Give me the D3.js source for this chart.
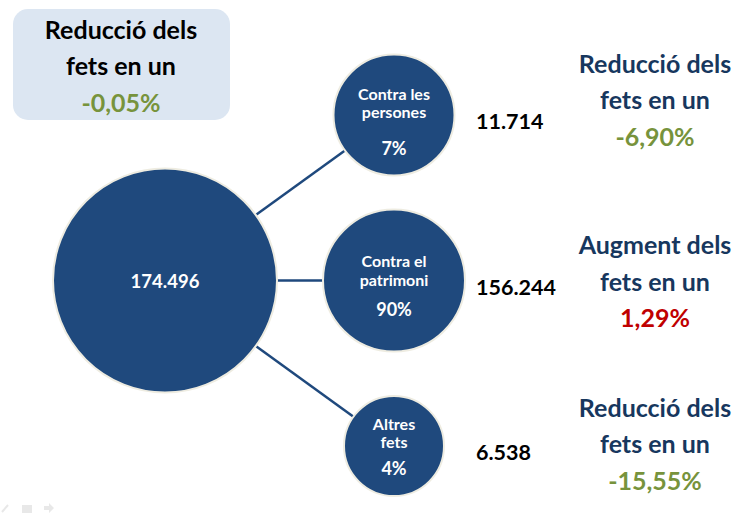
<!DOCTYPE html>
<html>
<head>
	<meta charset="utf-8">
	<title>Fets per tipologia</title>
	<style type="text/css">
		body {
			margin: 0;
			background: white;
		}
		#chart text {
			font-family: Lato, "Open Sans", sans-serif;
			font-weight: bold;
		}
	</style>
</head>
<body>
<svg id="chart"></svg>

<script type="text/javascript" src="https://d3js.org/d3.v7.min.js"></script>
<script type="text/javascript">
	// dades
	var total = 174496;
	var totalChange = -0.05;
	var categories = ["Contra les persones", "Contra el patrimoni", "Altres fets"];
	var labelLines = [["Contra les", "persones"], ["Contra el", "patrimoni"], ["Altres", "fets"]];
	var values = [11714, 156244, 6538];
	var shares = [7, 90, 4];
	var changes = [-6.90, 1.29, -15.55];

	var width = 736,
		height = 514;

	var blue = "#1f497d",
		navy = "#17375e",
		green = "#77933c",
		red = "#c00000";

	var ca = d3.formatLocale({decimal: ",", thousands: ".", grouping: [3], currency: ["", " €"], minus: "-"});
	var fmtN = ca.format(","),
		fmtPct = ca.format(",.2f");

	var svg = d3.select("#chart")
		.attr("width", width)
		.attr("height", height);

	var rows = categories.map((c, i) => ({
		cat: c, lines: labelLines[i], value: values[i], share: shares[i], change: changes[i]
	}));

	// posicions
	var y = d3.scalePoint().domain(categories).range([115, 446]);
	var rootX = 165, childX = 394, rootR = 112;
	var rootY = y(categories[1]);

	// radi segons l'ordre del pes
	var ranked = shares.slice().sort(d3.ascending);
	var r = d3.scaleLinear().domain([0, ranked.length - 1]).range([50, 71]);
	rows.forEach(d => { d.r = r(ranked.indexOf(d.share)); d.y = y(d.cat); });

	// caixa del total
	var box = svg.append("g");
	box.append("rect")
		.attr("x", 13).attr("y", 9)
		.attr("width", 217).attr("height", 111)
		.attr("rx", 15)
		.attr("fill", "#dce6f2");

	function note(g, cx, cy, change, color) {
		var t = [change < 0 ? "Reducció dels" : "Augment dels", "fets en un", fmtPct(change) + "%"];
		g.selectAll("text")
			.data(t)
			.enter().append("text")
			.attr("x", cx)
			.attr("y", (d, i) => cy + (i - 1) * 36.5)
			.attr("text-anchor", "middle")
			.attr("dominant-baseline", "central")
			.attr("font-size", 25)
			.attr("fill", (d, i) => i == 2 ? (change < 0 ? green : red) : color)
			.text(d => d);
	}
	note(box.append("g"), 121, 65, totalChange, "#000");

	// enllaços
	svg.append("g")
		.selectAll("line")
		.data(rows)
		.enter().append("line")
		.each(function(d) {
			var dx = childX - rootX, dy = d.y - rootY;
			var len = Math.sqrt(dx * dx + dy * dy);
			d3.select(this)
				.attr("x1", rootX + dx / len * rootR)
				.attr("y1", rootY + dy / len * rootR)
				.attr("x2", childX - dx / len * d.r)
				.attr("y2", d.y - dy / len * d.r);
		})
		.attr("stroke", blue)
		.attr("stroke-width", 2.5);

	// cercle arrel
	svg.append("circle")
		.attr("cx", rootX).attr("cy", rootY).attr("r", rootR)
		.attr("fill", blue)
		.attr("stroke", "#eeece1")
		.attr("stroke-width", 2);

	svg.append("text")
		.attr("x", rootX).attr("y", rootY)
		.attr("text-anchor", "middle")
		.attr("dominant-baseline", "central")
		.attr("font-size", 18.5)
		.attr("fill", "white")
		.text(fmtN(total));

	// cercles fills
	var labelTop = [-22, -20, -23],
		pctY = [33, 28.5, 22];

	var node = svg.append("g")
		.selectAll("g")
		.data(rows)
		.enter().append("g")
		.attr("transform", d => `translate(${childX},${d.y})`);

	node.append("circle")
		.attr("r", d => d.r)
		.attr("fill", blue)
		.attr("stroke", "#eeece1")
		.attr("stroke-width", 2);

	node.each(function(d, k) {
		var g = d3.select(this);
		g.selectAll("text.lab")
			.data(d.lines)
			.enter().append("text")
			.attr("class", "lab")
			.attr("y", (t, i) => labelTop[k] + i * 18.5)
			.attr("text-anchor", "middle")
			.attr("dominant-baseline", "central")
			.attr("font-size", 16)
			.attr("fill", "white")
			.text(t => t);
		g.append("text")
			.attr("y", pctY[k])
			.attr("text-anchor", "middle")
			.attr("dominant-baseline", "central")
			.attr("font-size", 18)
			.attr("fill", "white")
			.text(d.share + "%");
	});

	// valors
	svg.append("g")
		.selectAll("text")
		.data(rows)
		.enter().append("text")
		.attr("x", 476)
		.attr("y", d => d.y + 6)
		.attr("dominant-baseline", "central")
		.attr("font-size", 21.5)
		.attr("fill", "#000")
		.text(d => fmtN(d.value));

	// variacions
	var noteShift = [-16, 0, -3];
	rows.forEach((d, i) => note(svg.append("g"), 655, d.y + noteShift[i], d.change, navy));

	// controls de la diapositiva
	var ctl = svg.append("g").attr("fill", "#e8e8e8").attr("stroke", "#e8e8e8");
	ctl.append("line").attr("x1", 2).attr("y1", 512).attr("x2", 8).attr("y2", 505).attr("stroke-width", 2);
	ctl.append("rect").attr("x", 22).attr("y", 505).attr("width", 10).attr("height", 8).attr("stroke", "none");
	ctl.append("path").attr("d", "M44,506h5v-3l5,5l-5,5v-3h-5z").attr("stroke", "none");
</script>
</body>
</html>
